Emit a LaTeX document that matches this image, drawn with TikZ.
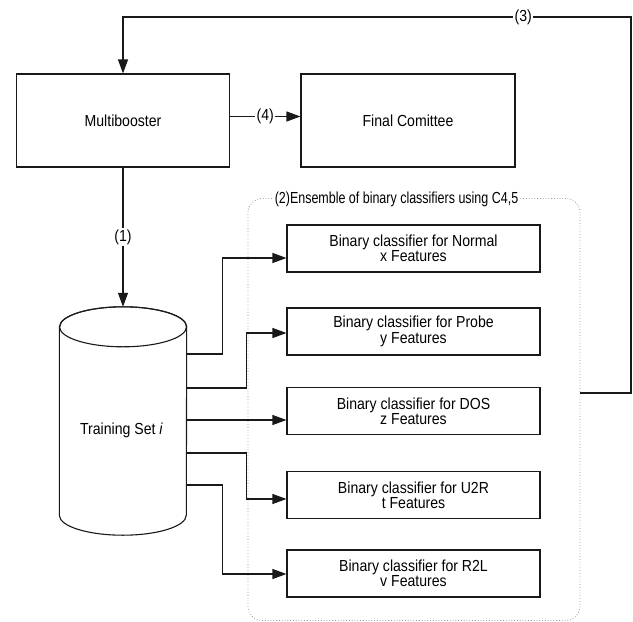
\documentclass[tikz,border=0pt]{standalone}
\usepackage{fontspec}
\setmainfont[FakeStretch=0.88]{Liberation Sans}
\newfontfamily\grpfont[FakeStretch=0.78]{Liberation Sans}
\usetikzlibrary{arrows.meta}

\begin{document}
\begin{tikzpicture}[x=1pt,y=-1pt,
  line/.style={draw=black!90, line width=1.1pt},
  arr/.style={line, -{Triangle[length=14pt,width=10pt]}},
  box/.style={line, rectangle, inner sep=0pt, align=center,
    font=\fontsize{16}{13.5}\selectfont},
  clf/.style={box, minimum width=253pt, minimum height=47pt},
  lbl/.style={fill=white, inner sep=1.5pt, font=\fontsize{16}{16}\selectfont},
]
\useasboundingbox (0,0) rectangle (633,622);

% dotted group around the binary classifiers
\node[draw=black!40, dotted, line width=0.8pt, rounded corners=14pt,
      minimum width=332pt, minimum height=422pt, inner sep=0pt] (ens) at (414,409.5) {};
\node[fill=white, inner sep=1pt, font=\grpfont\fontsize{16}{16}\selectfont]
      (enslbl) at (396.5,199) {(2)Ensemble of binary classifiers using C4,5};

% main boxes
\node[box, minimum width=213pt, minimum height=93pt] (mb) at (123,120.5) {Multibooster};
\node[box, minimum width=214pt, minimum height=93pt] (fc) at (408,120.5) {Final Comittee};

% classifiers
\node[clf] (c1) at (413.5,248.5) {Binary classifier for Normal\\x Features};
\node[clf] (c2) at (413.5,331.5) {Binary classifier for Probe\\y Features};
\node[clf] (c3) at (413.5,411)   {Binary classifier for DOS\\z Features};
\node[clf] (c4) at (413.5,495)   {Binary classifier for U2R\\t Features};
\node[clf] (c5) at (413.5,573.5) {Binary classifier for R2L\\v Features};

% training set drum
\node[minimum width=127pt, minimum height=228pt, inner sep=0pt] (ts) at (123,421) {};
\draw[line, fill=white] ([yshift=-20pt]ts.north west) -- ([yshift=20pt]ts.south west)
  arc[start angle=180, end angle=360, x radius=63.5pt, y radius=20pt]
  -- ([yshift=-20pt]ts.north east)
  arc[start angle=0, end angle=180, x radius=63.5pt, y radius=20pt] -- cycle;
\draw[line] ([yshift=-20pt]ts.north) ellipse[x radius=63.5pt, y radius=20pt];
\node[font=\fontsize{16}{16}\selectfont] (tstxt) at (121.5,430) {Training Set \textit{i}};

% flow
\draw[arr] ([yshift=4pt]mb.east) -- node[lbl]{(4)} ([yshift=4pt]fc.west);
\draw[arr] (mb.south) -- node[lbl]{(1)} (ts.north);

\draw[arr] ([yshift=67pt]ts.east) -- ++(36,0) |- ([yshift=-9.5pt]c1.west);
\draw[arr] ([yshift=33pt]ts.east) -- ++(60,0) |- ([yshift=-1.5pt]c2.west);
\draw[arr] ([yshift=1pt]ts.east) -- ([yshift=-9pt]c3.west);
\draw[arr] ([yshift=-32pt]ts.east) -- ++(60,0) |- ([yshift=-4pt]c4.west);
\draw[arr] ([yshift=-64pt]ts.east) -- ++(36,0) |- ([yshift=-0.5pt]c5.west);

% feedback loop to the booster
\coordinate (corner) at (631,17);
\draw[arr] ([yshift=16.5pt]ens.east) -| (corner) -| node[lbl, pos=0.106]{(3)} (mb.north);
\end{tikzpicture}
\end{document}
